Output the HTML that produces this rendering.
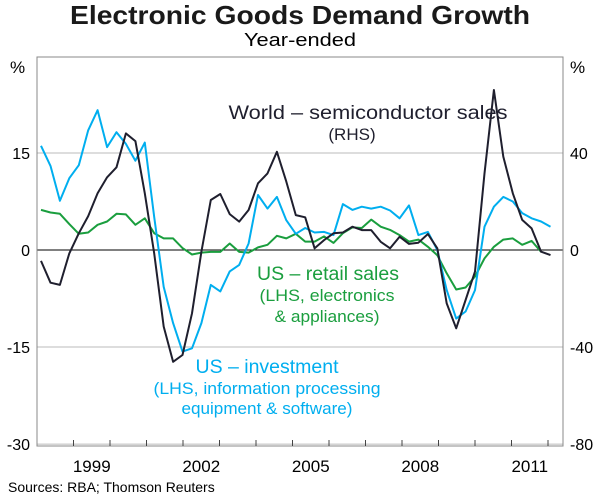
<!DOCTYPE html>
<html><head><meta charset="utf-8"><style>
body{margin:0;background:#fff;width:600px;height:497px;overflow:hidden;font-family:"Liberation Sans",Arial,sans-serif}
svg text{font-family:"Liberation Sans",Arial,sans-serif}
</style></head><body>
<svg id="chart" width="600" height="497" viewBox="0 0 600 497">
<text x="300" y="24" text-anchor="middle" font-size="26" font-weight="bold" fill="#1a1a1a" textLength="460" lengthAdjust="spacingAndGlyphs">Electronic Goods Demand Growth</text>
<text x="300" y="46" text-anchor="middle" font-size="18" fill="#000" textLength="112" lengthAdjust="spacingAndGlyphs">Year-ended</text>
<text x="10" y="73" font-size="17">%</text>
<text x="570" y="73" font-size="17">%</text>
<g id="grid"></g>
<g id="series"></g>
<rect x="37" y="57" width="526" height="389" fill="none" stroke="#888" stroke-width="1"/>
<g id="axes"></g>
<text x="368" y="119" text-anchor="middle" font-size="19" fill="#1f1f2e" textLength="279" lengthAdjust="spacingAndGlyphs">World – semiconductor sales</text>
<text x="352" y="140" text-anchor="middle" font-size="17" fill="#1f1f2e">(RHS)</text>
<text x="328" y="280" text-anchor="middle" font-size="19" fill="#1a9e3e" textLength="142" lengthAdjust="spacingAndGlyphs">US – retail sales</text>
<text x="327" y="301" text-anchor="middle" font-size="17" fill="#1a9e3e" textLength="135" lengthAdjust="spacingAndGlyphs">(LHS, electronics</text>
<text x="327" y="322" text-anchor="middle" font-size="17" fill="#1a9e3e" textLength="105" lengthAdjust="spacingAndGlyphs">&amp; appliances)</text>
<text x="267" y="373" text-anchor="middle" font-size="19" fill="#00aeef" textLength="143" lengthAdjust="spacingAndGlyphs">US – investment</text>
<text x="267" y="394" text-anchor="middle" font-size="17" fill="#00aeef" textLength="227" lengthAdjust="spacingAndGlyphs">(LHS, information processing</text>
<text x="267" y="414" text-anchor="middle" font-size="17" fill="#00aeef" textLength="171" lengthAdjust="spacingAndGlyphs">equipment &amp; software)</text>
<text x="8" y="492" font-size="14">Sources: RBA; Thomson Reuters</text>
</svg>
<script>
const leftTicks=[15,0,-15,-30];
const rightTicks=[40,0,-40,-80];
const yearLabels=[1999,2002,2005,2008,2011];
const startYear=1998.11;
const stepYears=0.2585;
const investment=[16.1,13.0,7.6,11.1,13.1,18.5,21.6,15.9,18.2,16.4,13.8,16.6,5.1,-5.7,-11.3,-15.7,-15.2,-11.3,-5.4,-6.4,-3.3,-2.3,1.0,8.5,6.4,8.2,4.6,2.5,3.4,2.7,2.8,2.3,7.1,6.2,6.7,6.4,6.7,6.1,4.9,6.9,2.3,2.8,0,-6.2,-10.6,-9.5,-6.2,3.6,6.7,8.2,7.5,5.7,4.9,4.4,3.6];
const semis=[-4.5,-13.5,-14.4,-1.4,6.9,14.0,23.4,30.0,34.1,48.1,44.9,23.4,-1.4,-31.6,-46.1,-43.3,-26.1,-0.7,20.6,23.1,14.8,11.7,16.5,27.5,31.6,40.5,28.2,14.4,13.5,0.7,4.1,6.9,7.2,9.6,8.2,8.2,3.4,0.7,5.5,2.5,3.0,6.6,0.7,-22,-32.3,-20.6,-8.9,31.6,66,38.5,23.4,12.4,8.9,-0.7,-2.1];
const retail=[6.2,5.8,5.6,4.0,2.5,2.7,3.9,4.4,5.6,5.5,3.9,4.9,2.6,1.8,1.8,0.3,-0.7,-0.4,-0.3,-0.3,1.0,-0.3,-0.4,0.4,0.8,2.2,1.8,2.5,1.3,1.3,2.1,1.1,2.6,3.5,3.4,4.7,3.6,3.1,2.3,1.3,1.6,0.5,-0.8,-3.6,-6.1,-5.8,-4.1,-1.3,0.5,1.6,1.8,0.8,1.4,-0.3];
const NS='http://www.w3.org/2000/svg';
const X0=37,X1=563,Y0=57,Y1=446;
function xScale(t){return X0+(t-1998)*36.5;}
function yL(v){return 250-v*6.47;}
function yR(v){return 250-v*2.425;}
function mk(tag,attrs,parent){const e=document.createElementNS(NS,tag);for(const k in attrs)e.setAttribute(k,attrs[k]);parent.appendChild(e);return e;}
const grid=document.getElementById('grid'),axes=document.getElementById('axes'),ser=document.getElementById('series');
leftTicks.forEach((v,i)=>{
  const y=yL(v);
  if(v!==0&&y>Y0+1&&y<Y1-1){const l=mk('line',{x1:X0,x2:X1,y1:y,y2:y,stroke:'#bbb','stroke-width':1},grid);
  
  }
  const t=mk('text',{x:30,y:y+6,'text-anchor':'end','font-size':16},axes);t.textContent=v;
  
  
  const r=mk('text',{x:570,y:yR(rightTicks[i])+6,'font-size':16},axes);r.textContent=rightTicks[i];
  
  
});
const zl=mk('line',{x1:X0,x2:X1,y1:yL(0),y2:yL(0),stroke:'#000','stroke-width':1},grid);


for(let yr=1999;yr<=2012;yr++){const x=xScale(yr);const tk=mk('line',{x1:x,x2:x,y1:Y1,y2:Y1-6,stroke:'#444','stroke-width':1},axes);
  
  }
yearLabels.forEach(yr=>{const t=mk('text',{x:Math.min(xScale(yr+0.5),540),y:472,'text-anchor':'middle','font-size':17},axes);t.textContent=yr;
  
  });
function line(vals,ys,color,name){
  const d=vals.map((v,i)=>(i?'L':'M')+xScale(startYear+i*stepYears).toFixed(1)+','+ys(v).toFixed(1)).join('');
  const p=mk('path',{d:d,fill:'none',stroke:color,'stroke-width':2,'stroke-linejoin':'round'},ser);
  
  
}
line(retail,yL,'#1a9e3e','retail-sales-line');
line(investment,yL,'#00aeef','investment-line');
line(semis,yR,'#1f1f2e','semiconductor-line');
</script>
</body></html>
